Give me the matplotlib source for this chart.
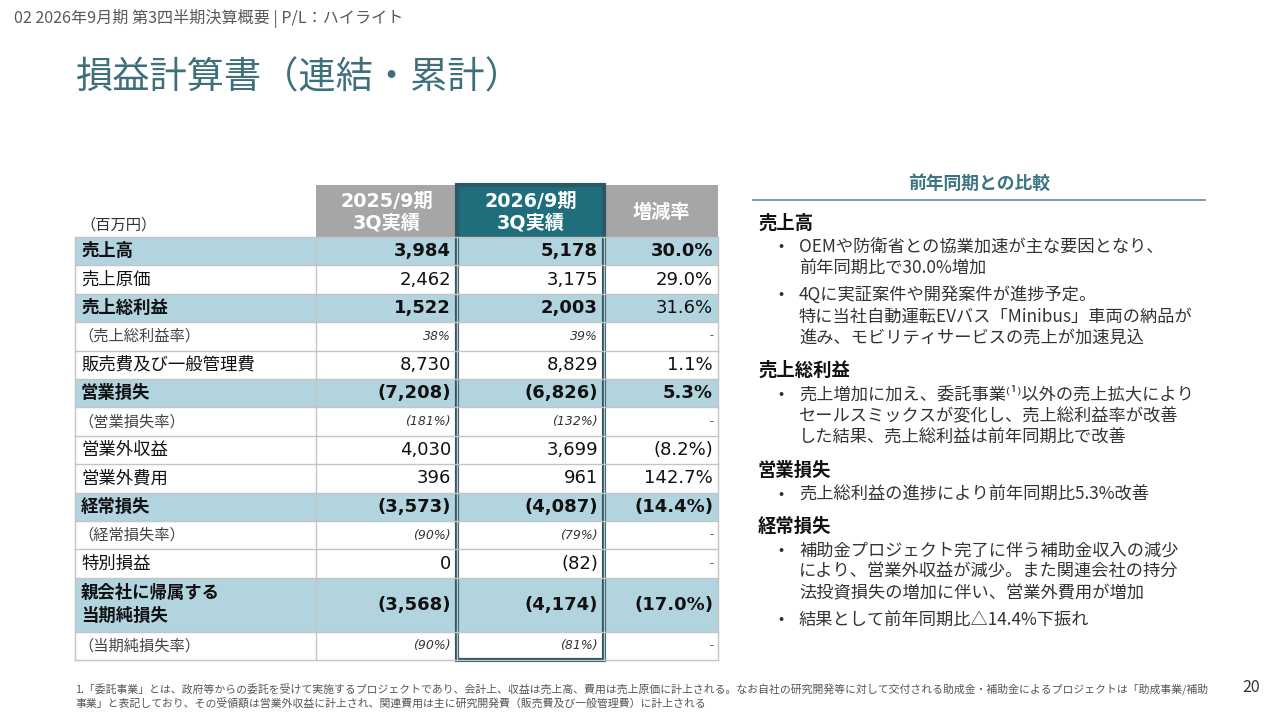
import matplotlib.pyplot as plt
from matplotlib.patches import Rectangle

plt.rcParams['font.family'] = ['Noto Sans CJK JP', 'DejaVu Sans']

# ---- data ----
row_labels = ['売上高', '売上原価', '売上総利益', '（売上総利益率）', '販売費及び一般管理費',
              '営業損失', '（営業損失率）', '営業外収益', '営業外費用', '経常損失',
              '（経常損失率）', '特別損益', '親会社に帰属する\n当期純損失', '（当期純損失率）']
fy2025 = [3984, 2462, 1522, 38, 8730, -7208, -181, 4030, 396, -3573, -90, 0, -3568, -90]
fy2026 = [5178, 3175, 2003, 39, 8829, -6826, -132, 3699, 961, -4087, -79, -82, -4174, -81]
change = [30.0, 29.0, 31.6, None, 1.1, 5.3, None, -8.2, 142.7, -14.4, None, None, -17.0, None]
key_rows = ['売上高', '売上総利益', '営業損失', '経常損失', '親会社に帰属する\n当期純損失']
bold_change = ['売上高', '営業損失', '経常損失', '親会社に帰属する\n当期純損失']

col_headers = ['2025/9期\n3Q実績', '2026/9期\n3Q実績', '増減率']
unit_label = '（百万円）'

comments = [
    ('売上高', ['OEMや防衛省との協業加速が主な要因となり、\n前年同期比で30.0%増加',
               '4Qに実証案件や開発案件が進捗予定。\n特に当社自動運転EVバス「Minibus」車両の納品が\n進み、モビリティサービスの売上が加速見込']),
    ('売上総利益', ['売上増加に加え、委託事業⁽¹⁾以外の売上拡大により\nセールスミックスが変化し、売上総利益率が改善\nした結果、売上総利益は前年同期比で改善']),
    ('営業損失', ['売上総利益の進捗により前年同期比5.3%改善']),
    ('経常損失', ['補助金プロジェクト完了に伴う補助金収入の減少\nにより、営業外収益が減少。また関連会社の持分\n法投資損失の増加に伴い、営業外費用が増加',
                '結果として前年同期比△14.4%下振れ']),
]

footnote = ('1.「委託事業」とは、政府等からの委託を受けて実施するプロジェクトであり、会計上、収益は売上高、費用は売上原価に計上される。'
            'なお自社の研究開発等に対して交付される助成金・補助金によるプロジェクトは「助成事業/補助\n'
            '事業」と表記しており、その受領額は営業外収益に計上され、関連費用は主に研究開発費（販売費及び一般管理費）に計上される')


def fmt_num(v, ratio):
    if ratio:
        s = f'{abs(v)}%'
    else:
        s = f'{abs(v):,}'
    return f'({s})' if v < 0 else s


def fmt_change(v):
    if v is None:
        return '-'
    s = f'{abs(v):.1f}%'
    return f'({s})' if v < 0 else s


# ---- figure in pixel coordinates ----
fig = plt.figure(figsize=(12.8, 7.2), dpi=100)
ax = fig.add_axes([0, 0, 1, 1])
ax.set_xlim(0, 1280)
ax.set_ylim(720, 0)
ax.axis('off')

teal = '#1f6e7c'
title_col = '#3e6f7b'
grey_head = '#a6a6a6'
row_blue = '#b1d4df'
grid_col = '#c4c4c4'
box_col = '#2b5866'
latin = ['DejaVu Sans', 'Noto Sans CJK JP']

ax.text(14, 18, '02 2026年9月期 第3四半期決算概要 | P/L：ハイライト', fontsize=11.6,
        color='#595959', va='center', ha='left')
ax.text(76, 78, '損益計算書（連結・累計）', fontsize=26.8, color=title_col, va='center', ha='left')

# ---- table ----
col_edges = [75, 316, 457, 604, 718]
head_top, head_bot = 185, 237
unit_h = 28.4
heights = [unit_h * (1.9 if '\n' in r else 1) for r in row_labels]

# header cells
for i, h in enumerate(col_headers):
    x0, x1 = col_edges[i + 1], col_edges[i + 2]
    fc = teal if i == 1 else grey_head
    ax.add_patch(Rectangle((x0, head_top), x1 - x0, head_bot - head_top, fc=fc, ec='none'))
    ax.text((x0 + x1) / 2, (head_top + head_bot) / 2 + 1, h, color='white', fontsize=13.8,
            fontweight='bold', ha='center', va='center', linespacing=1.2, family=latin)
ax.text(80, 225, unit_label, fontsize=11, color='#333333', ha='left', va='center')

y = head_bot
for i, lab in enumerate(row_labels):
    h = heights[i]
    ratio = lab.startswith('（')
    key = lab in key_rows
    if key:
        ax.add_patch(Rectangle((col_edges[0], y), col_edges[-1] - col_edges[0], h,
                               fc=row_blue, ec='none'))
    cy = y + h / 2
    if ratio:
        lab_kw = dict(fontsize=11, color='#444444', style='italic')
        num_kw = dict(fontsize=9, color='#333333', style='italic', family=['DejaVu Sans'])
    else:
        lab_kw = dict(fontsize=12.5, color='#111111', fontweight='bold' if key else 'normal')
        num_kw = dict(fontsize=13, color='#111111', fontweight='bold' if key else 'normal',
                      family=['DejaVu Sans'])
    ax.text(col_edges[0] + 6 if not ratio else col_edges[0] + 3, cy, lab, ha='left',
            va='center', linespacing=1.35, **lab_kw)
    ax.text(col_edges[2] - 6, cy, fmt_num(fy2025[i], ratio), ha='right', va='center', **num_kw)
    ax.text(col_edges[3] - 6, cy, fmt_num(fy2026[i], ratio), ha='right', va='center', **num_kw)
    ch_kw = dict(num_kw)
    if not ratio:
        ch_kw['fontweight'] = 'bold' if lab in bold_change else 'normal'
    if change[i] is None:
        ch_kw = dict(fontsize=8, color='#333333')
    ax.text(col_edges[4] - 5, cy, fmt_change(change[i]), ha='right', va='center', **ch_kw)
    y += h
    ax.plot([col_edges[0], col_edges[-1]], [y, y], color=grid_col, lw=1)

table_bot = y
for x in col_edges:
    ax.plot([x, x], [head_bot, table_bot], color=grid_col, lw=1)
ax.plot([col_edges[0], col_edges[-1]], [head_bot, head_bot], color=grid_col, lw=1)

# highlight box around current year
ax.add_patch(Rectangle((col_edges[2], head_top), col_edges[3] - col_edges[2],
                       table_bot - head_top, fc='none', ec=box_col, lw=3))

# ---- comment panel ----
ax.text(979, 184, '前年同期との比較', fontsize=12.8, fontweight='bold', color='#3c7482',
        ha='center', va='center')
ax.plot([753, 1205], [200, 200], color='#5d8c99', lw=1.2)

line_h = 21.7
y = 223
for head, bullets in comments:
    ax.text(758, y, head, fontsize=13.2, fontweight='bold', color='#111111', ha='left', va='center')
    y += 24
    for b in bullets:
        ax.text(778, y, '•', fontsize=11, color='#333333', ha='left', va='center')
        lines = b.split('\n')
        for ln in lines:
            ax.text(799, y, ln, fontsize=12.4, color='#333333', ha='left', va='center')
            y += line_h
        y += 4.5
    y += 6

ax.text(75, 690, footnote.split('\n')[0], fontsize=7.8, color='#555555', ha='left', va='center')
ax.text(75, 703, footnote.split('\n')[1], fontsize=7.8, color='#555555', ha='left', va='center')
ax.text(1251, 688, '20', fontsize=11.5, color='#333333', ha='center', va='center')

fig.savefig('out.png', dpi=100)
